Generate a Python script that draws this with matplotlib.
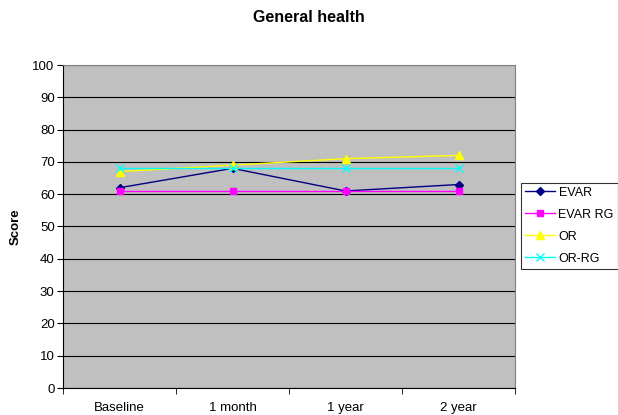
import matplotlib
matplotlib.use("Agg")
import matplotlib.pyplot as plt
import numpy as np

categories = ["Baseline", "1 month", "1 year", "2 year"]
evar = [62, 68, 61, 63]
evar_rg = [61, 61, 61, 61]
or_ = [67, 69, 71, 72]
or_rg = [68, 68, 68, 68]

plt.rcParams['font.family'] = ['Liberation Sans', 'DejaVu Sans']

fig = plt.figure(figsize=(6.18, 4.15), dpi=100)
ax = fig.add_axes([63/618, 1-388/415, (515-63)/618, (388-65)/415])
ax.set_facecolor('#C0C0C0')

x = np.arange(len(categories))
ax.plot(x, evar, color='#000080', marker='D', markersize=4, lw=1, label='EVAR')
ax.plot(x, evar_rg, color='#FF00FF', marker='s', markersize=5, lw=1, label='EVAR RG')
ax.plot(x, or_, color='#FFFF00', marker='^', markersize=6, lw=1, label='OR')
ax.plot(x, or_rg, color='#00FFFF', marker='x', markersize=6, mew=1, lw=1, label='OR-RG')

ax.set_xlim(-0.5, 3.5)
ax.set_ylim(0, 100)
ax.set_yticks(np.arange(0, 101, 10))
ax.yaxis.grid(True, color='black', lw=0.8)
ax.set_axisbelow(True)
ax.set_xticks(x)
ax.set_xticklabels(categories)
ax.set_xticks(np.arange(-0.5, 3.6, 1), minor=True)
ax.tick_params(axis='x', which='major', length=0, labelsize=9.5, pad=10)
ax.tick_params(axis='x', which='minor', length=4, color='black', direction='out')
ax.tick_params(axis='y', length=4, labelsize=9.5, direction='out', color='black', pad=2)
for s in ['top', 'right']:
    ax.spines[s].set_color('#808080')
for s in ['left', 'bottom']:
    ax.spines[s].set_color('black')
ax.set_ylabel('Score', fontsize=9.5, fontweight='bold', labelpad=8)

fig.text(0.5, 1-18/415, 'General health', ha='center', va='center', fontsize=11.5, fontweight='bold')

leg = ax.legend(loc='upper left', bbox_to_anchor=(521/618, 1-183/415), bbox_transform=fig.transFigure,
                fontsize=9, frameon=True, fancybox=False, edgecolor='black', handlelength=2.4,
                borderpad=0.3, labelspacing=0.8, handletextpad=0.3, borderaxespad=0)
leg.get_frame().set_linewidth(0.8)

fig.savefig('out.png', dpi=100)
